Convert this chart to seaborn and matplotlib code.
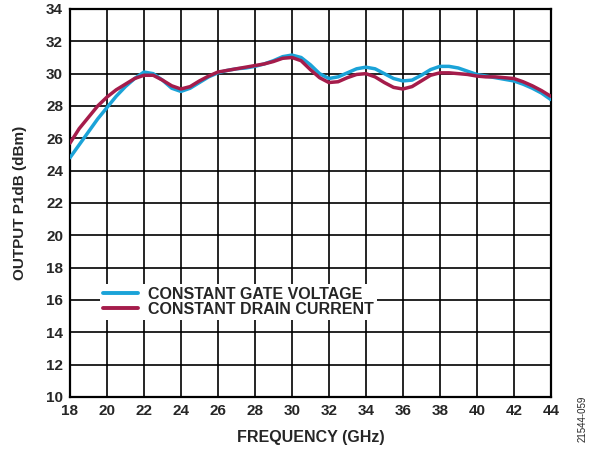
import seaborn as sns
import matplotlib.pyplot as plt
import pandas as pd

freq = [18, 18.5, 19, 19.5, 20, 20.5, 21, 21.5, 22, 22.5, 23, 23.5, 24, 24.5,
        25, 25.5, 26, 26.5, 27, 27.5, 28, 28.5, 29, 29.5, 30, 30.5, 31, 31.5,
        32, 32.5, 33, 33.5, 34, 34.5, 35, 35.5, 36, 36.5, 37, 37.5, 38, 38.5,
        39, 39.5, 40, 40.5, 41, 41.5, 42, 42.5, 43, 43.5, 44]
gate_voltage = [24.8, 25.6, 26.4, 27.2, 27.9, 28.6, 29.2, 29.7, 30.1, 30.0, 29.6, 29.1,
                28.9, 29.1, 29.45, 29.8, 30.05, 30.2, 30.3, 30.35, 30.45, 30.6, 30.8, 31.05,
                31.15, 31.0, 30.55, 30.0, 29.7, 29.8, 30.05, 30.3, 30.4, 30.3, 30.0, 29.7,
                29.55, 29.6, 29.9, 30.25, 30.45, 30.45, 30.35, 30.15, 29.95, 29.85, 29.75,
                29.65, 29.55, 29.35, 29.1, 28.8, 28.4]
drain_current = [25.7, 26.6, 27.3, 28.0, 28.55, 29.0, 29.35, 29.7, 29.9, 29.9, 29.6, 29.25,
                 29.05, 29.2, 29.55, 29.85, 30.1, 30.2, 30.3, 30.4, 30.5, 30.6, 30.75, 30.95,
                 31.0, 30.8, 30.25, 29.75, 29.45, 29.5, 29.75, 29.95, 30.0, 29.8, 29.45, 29.15,
                 29.05, 29.2, 29.55, 29.9, 30.05, 30.05, 30.0, 29.95, 29.85, 29.8, 29.8,
                 29.75, 29.7, 29.5, 29.25, 28.95, 28.6]
series_names = ["CONSTANT GATE VOLTAGE", "CONSTANT DRAIN CURRENT"]
colors = ["#1ba3d8", "#a51c4b"]

df = pd.concat([
    pd.DataFrame({"freq": freq, "p1db": gate_voltage, "mode": series_names[0]}),
    pd.DataFrame({"freq": freq, "p1db": drain_current, "mode": series_names[1]}),
])

sns.set_theme(style="whitegrid", rc={"grid.color": "black", "grid.linewidth": 1.2,
                                     "axes.edgecolor": "black", "axes.linewidth": 1.6})
plt.rcParams["font.family"] = ["Liberation Sans", "DejaVu Sans"]

fig = plt.figure(figsize=(5.98, 4.5), dpi=100)
ax = fig.add_axes([0.117, 0.118, 0.804, 0.862])

sns.lineplot(data=df, x="freq", y="p1db", hue="mode", palette=colors,
             linewidth=2.5, ax=ax, zorder=3)

ax.set_xlim(18, 44)
ax.set_ylim(10, 34)
ax.set_xticks(range(18, 45, 2))
ax.set_yticks(range(10, 35, 2))
ax.tick_params(length=0, labelsize=11, pad=5)
for lbl in ax.get_xticklabels() + ax.get_yticklabels():
    lbl.set_fontweight("bold")
ax.set_xlabel("FREQUENCY (GHz)", fontsize=11.5, fontweight="bold", labelpad=9)
ax.set_ylabel("OUTPUT P1dB (dBm)", fontsize=11, fontweight="bold", labelpad=14)

leg = ax.legend(loc="upper left", bbox_to_anchor=(19.2, 17.5), bbox_transform=ax.transData,
                frameon=True, fancybox=False, framealpha=1, edgecolor="white",
                handlelength=2.2, handletextpad=0.6, labelspacing=0.0,
                borderpad=0.2, prop={"weight": "bold", "size": 11.5})
leg.get_frame().set_linewidth(0)
for line in leg.get_lines():
    line.set_linewidth(2.8)
leg.set_zorder(5)

fig.text(0.975, 0.017, "21544-059", rotation=90, fontsize=7, ha="center", va="bottom")

fig.savefig("out.png", dpi=100)
